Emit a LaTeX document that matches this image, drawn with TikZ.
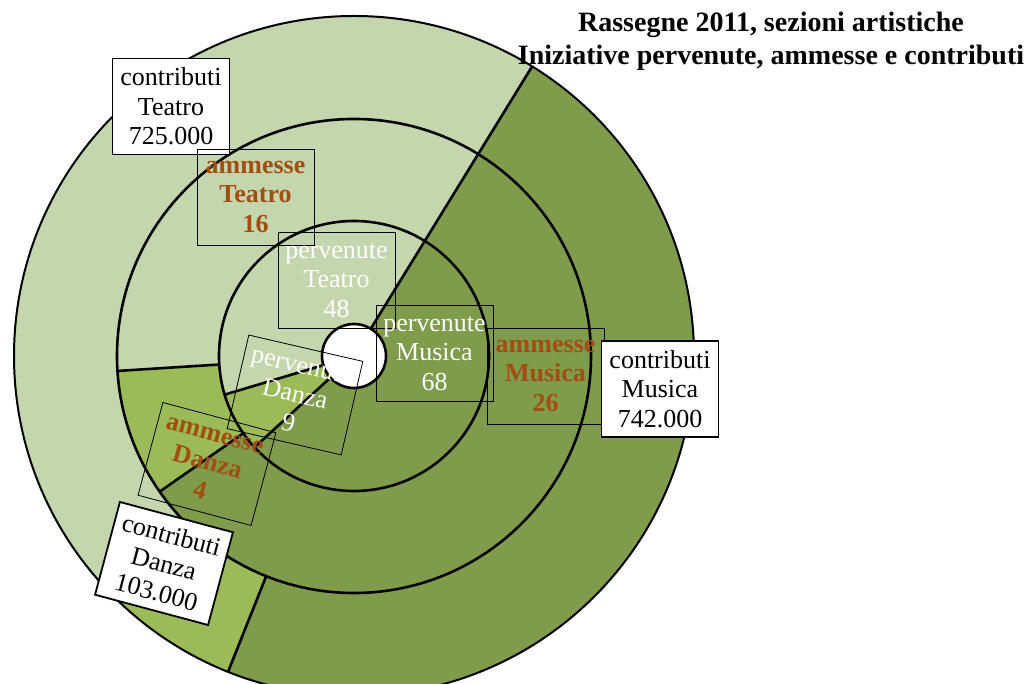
\documentclass[tikz,border=0pt]{standalone}
\usepackage{fontspec}
\setmainfont{Liberation Serif}
\definecolor{teatro}{RGB}{196,214,173}
\definecolor{musica}{RGB}{127,155,76}
\definecolor{danza}{RGB}{155,187,89}
\definecolor{ammbrown}{RGB}{162,78,16}
\tikzset{
  lbl/.style={draw=black,line width=0.8pt,minimum width=117pt,minimum height=96pt,
    align=center,inner sep=0pt,font=\fontsize{26}{29.5}\selectfont},
  contrbox/.style={lbl,fill=white,line width=1.8pt},
  ammbox/.style={lbl,text=ammbrown,font=\fontsize{26}{29.5}\selectfont\bfseries},
  pervbox/.style={lbl,text=white},
  rim/.style={line width=2.6pt}
}
% ring sector: colour, inner radius, outer radius, from angle, to angle
\newcommand{\ringpart}[5]{\fill[#1] (#4:#3) arc (#4:#5:#3) -- (#5:#2) arc (#5:#4:#2) -- cycle;}
\begin{document}
\begin{tikzpicture}[x=1pt,y=1pt]
  \clip (0,0) rectangle (1034,684);
  \fill[white] (0,0) rectangle (1034,684);
  \begin{scope}[shift={(354,328)}]
    % contributi
    \ringpart{musica}{237}{340}{-111.74}{58.4}
    \ringpart{danza}{237}{340}{-135.36}{-111.74}
    \ringpart{teatro}{237}{340}{58.4}{224.64}
    % ammesse
    \ringpart{musica}{135}{237}{-145.08}{58.4}
    \ringpart{danza}{135}{237}{-176.38}{-145.08}
    \ringpart{teatro}{135}{237}{58.4}{183.62}
    % pervenute
    \ringpart{musica}{32}{135}{-137.44}{58.4}
    \ringpart{danza}{32}{135}{-163.36}{-137.44}
    \ringpart{teatro}{32}{135}{58.4}{196.64}
    % rims and borders
    \draw[line width=2pt] (0,0) circle (340);
    \draw[rim] (0,0) circle (237);
    \draw[rim] (0,0) circle (135);
    \draw[rim] (0,0) circle (32);
    \draw[rim] (58.4:32) -- (58.4:340);
    \draw[rim] (-111.74:237) -- (-111.74:340);
    \draw[rim] (-135.36:237) -- (-135.36:340);
    \draw[rim] (-145.08:135) -- (-145.08:237);
    \draw[rim] (-176.38:135) -- (-176.38:237);
    \draw[rim] (-137.44:32) -- (-137.44:135);
    \draw[rim] (-163.36:32) -- (-163.36:135);
  \end{scope}
  % labels
  \node[contrbox] (cteatro) at (171,577.5) {contributi\\Teatro\\725.000};
  \node[ammbox] (ateatro) at (255.5,487) {ammesse\\Teatro\\16};
  \node[pervbox] (pteatro) at (336.5,403.5) {pervenute\\Teatro\\48};
  \node[pervbox] (pmusica) at (434.5,330.5) {pervenute\\Musica\\68};
  \node[ammbox] (amusica) at (545.5,308) {ammesse\\Musica\\26};
  \node[contrbox] (cmusica) at (660,295) {contributi\\Musica\\742.000};
  \node[pervbox,rotate=-13] (pdanza) at (295,289) {pervenute\\Danza\\9};
  \node[ammbox,rotate=-15] (adanza) at (207,220) {ammesse\\Danza\\4};
  \node[contrbox,rotate=-15] (cdanza) at (164,120.5) {contributi\\Danza\\103.000};
  \node[font=\fontsize{28}{33}\selectfont\bfseries,align=center] (title) at (771,643)
    {Rassegne 2011, sezioni artistiche\\Iniziative pervenute, ammesse e contributi};
\end{tikzpicture}
\end{document}
